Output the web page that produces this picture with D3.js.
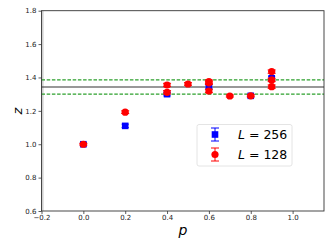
<!DOCTYPE html>
<html><head><meta charset="utf-8">
<script src="https://d3js.org/d3.v7.min.js"></script>
<style>body{margin:0;background:#fff}svg{display:block}</style>
</head><body>
<script>
const xTicks = [-0.2, 0.0, 0.2, 0.4, 0.6, 0.8, 1.0];
const yTicks = [0.6, 0.8, 1.0, 1.2, 1.4, 1.6, 1.8];
const p256 = [0.0, 0.2, 0.4, 0.6, 0.8, 0.9];
const z256 = [1.0, 1.11, 1.30, 1.345, 1.29, 1.395];
const e256 = [0.01, 0.01, 0.01, 0.01, 0.008, 0.012];
const p128 = [0.0, 0.2, 0.4, 0.4, 0.5, 0.6, 0.6, 0.6, 0.7, 0.8, 0.9, 0.9, 0.9];
const z128 = [1.0, 1.192, 1.355, 1.311, 1.361, 1.375, 1.368, 1.319, 1.289, 1.29, 1.435, 1.385, 1.345];
const e128 = [0.005, 0.008, 0.01, 0.01, 0.008, 0.01, 0.01, 0.01, 0.006, 0.006, 0.01, 0.01, 0.01];
const zMean = 1.343, zLow = 1.30, zHigh = 1.385;

const W = 332, H = 249;
const m = {l: 41.5, r: 324, t: 10.7, b: 211};
const svg = d3.select("body").append("svg").attr("width", W).attr("height", H);
const x = d3.scaleLinear().domain([-0.2, 1.15]).range([m.l, m.r]);
const y = d3.scaleLinear().domain([0.6, 1.8]).range([m.b, m.t]);

// faint band along left edge
svg.append("line").attr("x1", m.l + 1.3).attr("x2", m.l + 1.3).attr("y1", m.t).attr("y2", m.b)
  .attr("stroke", "#d0d0d0").attr("stroke-width", 1.6);

// reference lines
svg.append("line").attr("x1", m.l).attr("x2", m.r).attr("y1", y(zMean)).attr("y2", y(zMean))
  .attr("stroke", "#333").attr("stroke-width", 1.2);
[zHigh, zLow].forEach(v => svg.append("line").attr("x1", m.l).attr("x2", m.r)
  .attr("y1", y(v)).attr("y2", y(v)).attr("stroke", "#2ca02c").attr("stroke-width", 1.2)
  .attr("stroke-dasharray", "3.5,1.7"));

function errbars(g, ps, zs, es, col, capw) {
  ps.forEach((p, i) => {
    const cx = x(p);
    g.append("line").attr("x1", cx).attr("x2", cx).attr("y1", y(zs[i] - es[i])).attr("y2", y(zs[i] + es[i]))
      .attr("stroke", col).attr("stroke-width", 1);
    [zs[i] - es[i], zs[i] + es[i]].forEach(v => g.append("line").attr("x1", cx - capw).attr("x2", cx + capw)
      .attr("y1", y(v)).attr("y2", y(v)).attr("stroke", col).attr("stroke-width", 1));
  });
}
const g256 = svg.append("g");
errbars(g256, p256, z256, e256, "blue", 3.5);
p256.forEach((p, i) => g256.append("rect").attr("x", x(p) - 3.3).attr("y", y(z256[i]) - 3.3)
  .attr("width", 6.6).attr("height", 6.6).attr("fill", "blue"));
const g128 = svg.append("g");
errbars(g128, p128, z128, e128, "red", 4);
p128.forEach((p, i) => g128.append("circle").attr("cx", x(p)).attr("cy", y(z128[i])).attr("r", 3.6).attr("fill", "red"));

// spines
svg.append("rect").attr("x", m.l).attr("y", m.t).attr("width", m.r - m.l).attr("height", m.b - m.t)
  .attr("fill", "none").attr("stroke", "#333").attr("stroke-width", 0.9);

// axes
const xa = svg.append("g").attr("transform", `translate(0,${m.b})`)
  .call(d3.axisBottom(x).tickValues(xTicks).tickSize(3).tickPadding(1.5)
    .tickFormat(d => d3.format(".1f")(d).replace("-", "\u2212")));
const ya = svg.append("g").attr("transform", `translate(${m.l},0)`)
  .call(d3.axisLeft(y).tickValues(yTicks).tickSize(3).tickPadding(2).tickFormat(d3.format(".1f")));
[xa, ya].forEach(a => {
  a.select(".domain").remove();
  a.selectAll("line").attr("stroke", "#333").attr("stroke-width", 0.8);
  a.selectAll("text").attr("font-family", "DejaVu Sans").attr("font-size", 7).attr("fill", "#222");
});

svg.append("text").attr("x", 183).attr("y", 235).attr("text-anchor", "middle")
  .attr("font-family", "DejaVu Sans").attr("font-style", "italic").attr("font-size", 14).text("p");
svg.append("text").attr("x", 17).attr("y", 111).attr("text-anchor", "middle")
  .attr("transform", "rotate(-90,17,111)").attr("dy", "0.35em")
  .attr("font-family", "DejaVu Sans").attr("font-style", "italic").attr("font-size", 13).text("z");

// legend
const lg = svg.append("g");
lg.append("rect").attr("x", 197).attr("y", 124.5).attr("width", 95).attr("height", 41.5).attr("rx", 2)
  .attr("fill", "white").attr("fill-opacity", 0.8).attr("stroke", "#ddd").attr("stroke-width", 0.8);
const items = [{c: "blue", lab: "256", y: 134.5, sq: true}, {c: "red", lab: "128", y: 154.5, sq: false}];
items.forEach(it => {
  const cx = 215;
  lg.append("line").attr("x1", cx).attr("x2", cx).attr("y1", it.y - 6.5).attr("y2", it.y + 6.5).attr("stroke", it.c);
  [it.y - 6.5, it.y + 6.5].forEach(v => lg.append("line").attr("x1", cx - 4).attr("x2", cx + 4)
    .attr("y1", v).attr("y2", v).attr("stroke", it.c));
  if (it.sq) lg.append("rect").attr("x", cx - 3.3).attr("y", it.y - 3.3).attr("width", 6.6).attr("height", 6.6).attr("fill", it.c);
  else lg.append("circle").attr("cx", cx).attr("cy", it.y).attr("r", 3.6).attr("fill", it.c);
  const t = lg.append("text").attr("x", 238).attr("y", it.y).attr("dy", "0.36em")
    .attr("font-family", "DejaVu Sans").attr("font-size", 12.5);
  t.append("tspan").attr("font-style", "italic").text("L");
  t.append("tspan").text(" = " + it.lab);
});
</script>
</body></html>
